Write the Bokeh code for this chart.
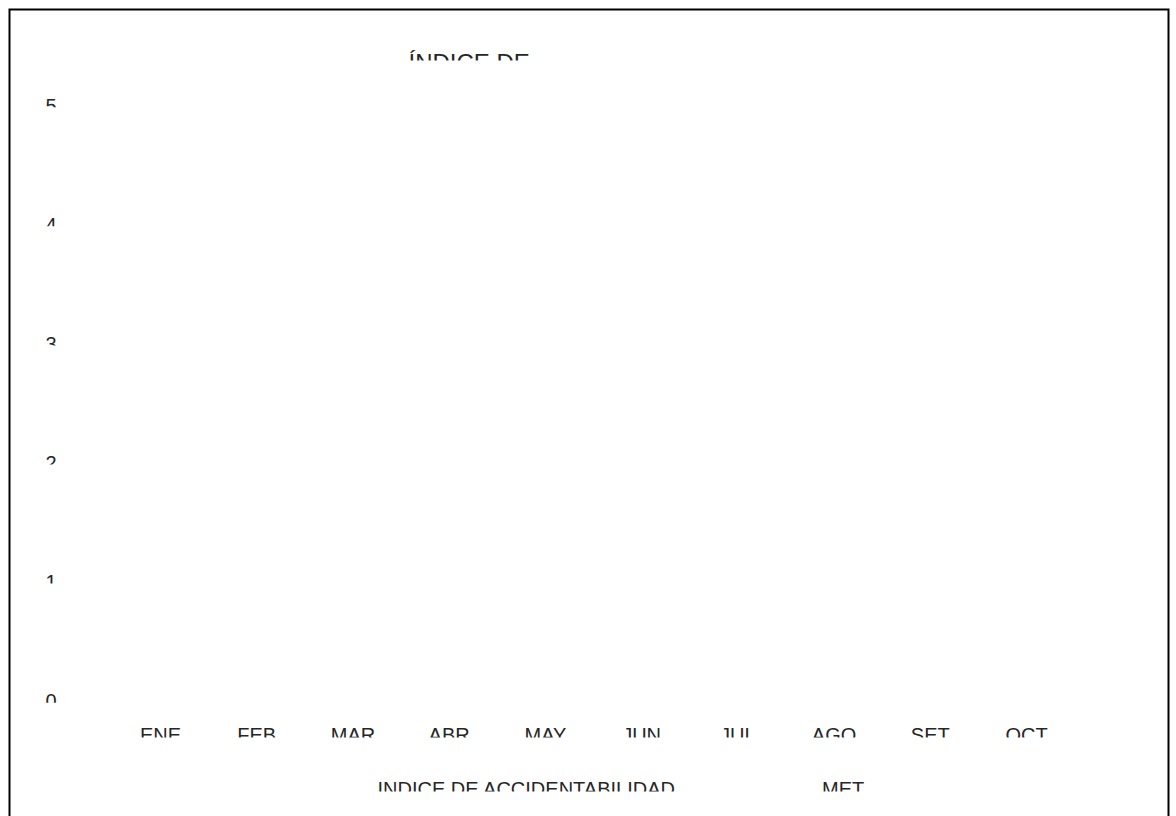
from bokeh.plotting import figure
from bokeh.models import BoxAnnotation, ColumnDataSource, Range1d
from bokeh.core.properties import value
from bokeh.embed import file_html
from bokeh.resources import INLINE

# ---- data ----
months = ["ENE", "FEB", "MAR", "ABR", "MAY", "JUN", "JUL", "AGO", "SET", "OCT"]
indice = [0, 0, 0, 0, 0, 0, 0, 0, 0, 0]
meta = [0, 0, 0, 0, 0, 0, 0, 0, 0, 0]
y_ticks = [0, 1, 2, 3, 4, 5]
y_tick_labels = ["0", "1", "2", "3", "4", "5"]
title_text = "ÍNDICE DE"
legend_labels = ["INDICE DE ACCIDENTABILIDAD", "MET"]

FONT = "Liberation Sans"
TXT = "#262626"
W, H = 1176, 816

x_idx = list(range(len(months)))
src = ColumnDataSource(dict(x=x_idx, month=months, indice=indice, meta=meta))

x_range = Range1d(-1.663, 10.559)
y_range = Range1d(-0.9664, 5.885)

def xd(px):  # canvas pixel -> data x
    return x_range.start + px * (x_range.end - x_range.start) / W

def yd(px):  # canvas pixel (from top) -> data y
    return y_range.end - px * (y_range.end - y_range.start) / H

p = figure(x_range=x_range, y_range=y_range, width=W, height=H,
           output_backend="svg", toolbar_location=None, title=None,
           min_border=0, x_axis_location=None, y_axis_location=None)
p.outline_line_color = None
p.xgrid.grid_line_color = None
p.ygrid.grid_line_color = None
p.background_fill_color = "white"
p.border_fill_color = "white"

# series (all values are zero in the reference, so nothing shows)
p.vbar(x="x", top="indice", width=0.3, source=src,
       fill_color="#4472c4", line_color=None)
p.vbar(x="x", top="meta", width=0.3, source=src,
       fill_color="#ed7d31", line_color=None)

common = dict(text_font=value(FONT), text_color=TXT, text_baseline="alphabetic")

# category labels
p.text(x=x_idx, y=[0] * len(months), text=months, y_offset=34,
       text_align="center", text_font_size="20px", **common)
# value labels
p.text(x=[x_range.start] * len(y_ticks), y=y_ticks, text=y_tick_labels,
       x_offset=56, y_offset=0, text_align="right", text_font_size="20px",
       **common)
# title
p.text(x=[x_range.start], y=[y_range.end], text=[title_text],
       x_offset=408, y_offset=62, text_align="left", text_font_size="24px",
       **common)
# legend labels
p.text(x=[x_range.start] * 2, y=[0, 0], text=legend_labels,
       x_offset=[377, 821.5], y_offset=88, text_align="left",
       text_font_size="20px", **common)

# white masks that cut the lower half of the texts, as in the reference
def mask(**kw):
    p.add_layout(BoxAnnotation(fill_color="white", fill_alpha=1,
                               line_color=None, level="overlay", **kw))

cv = dict(left_units="canvas", right_units="canvas",
          top_units="canvas", bottom_units="canvas")
mask(left=300, right=700, top=60, bottom=86, **cv)
for t in y_ticks:
    mask(left=20, right=90, top=t - 0.011, bottom=t - 0.2,
         left_units="canvas", right_units="canvas",
         top_units="data", bottom_units="data")
mask(left=12, right=W - 12, top=737, bottom=766, **cv)
mask(left=12, right=W - 12, top=791, bottom=H, **cv)

# outer frame: left, top and right edges (the bottom edge is off the page)
p.line(x=[xd(9), xd(9), xd(1168), xd(1168)],
       y=[yd(H + 40), yd(9), yd(9), yd(H + 40)],
       line_color="black", line_width=2, line_join="miter")

open("out.html", "w").write(file_html(p, INLINE))
